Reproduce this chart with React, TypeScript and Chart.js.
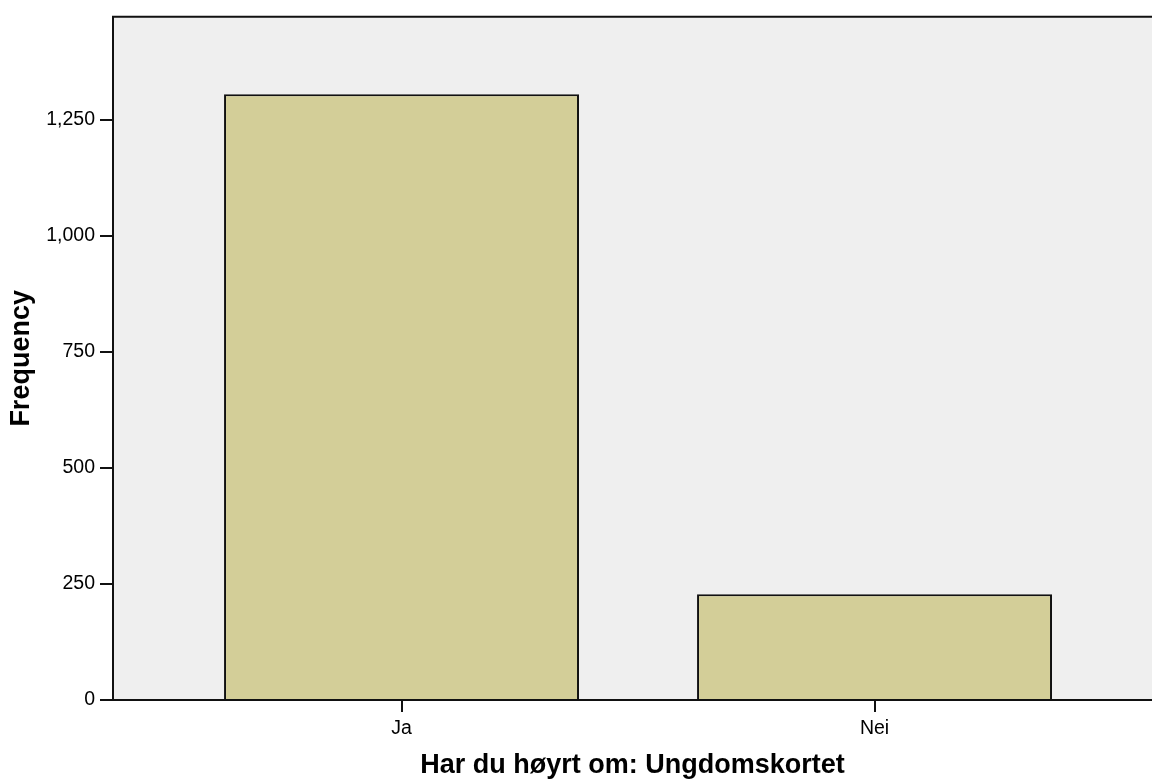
import React, { useEffect, useRef } from "react";
import { Chart, registerables } from "chart.js";

Chart.register(...registerables);

const categories: string[] = ["Ja", "Nei"];
const frequencies: number[] = [1305, 228];
const yTickValues: number[] = [0, 250, 500, 750, 1000, 1250];
const yMax = 1472;
const xTitle = "Har du høyrt om: Ungdomskortet";
const yTitle = "Frequency";

const FONT = "'Liberation Sans', Arial, Helvetica, sans-serif";

const plotFrame = {
  id: "plotFrame",
  beforeDraw(chart: any) {
    const { ctx, chartArea } = chart;
    if (!chartArea) return;
    ctx.save();
    ctx.fillStyle = "#efefef";
    ctx.fillRect(chartArea.left, chartArea.top, chartArea.right - chartArea.left, chartArea.bottom - chartArea.top);
    ctx.restore();
  },
  afterDraw(chart: any) {
    const { ctx, chartArea } = chart;
    if (!chartArea) return;
    ctx.save();
    ctx.strokeStyle = "#111111";
    ctx.lineWidth = 2;
    ctx.beginPath();
    ctx.moveTo(chartArea.left - 1, chartArea.top);
    ctx.lineTo(chartArea.right, chartArea.top);
    ctx.stroke();
    ctx.restore();
  },
};

export default function App() {
  const ref = useRef<HTMLCanvasElement | null>(null);

  useEffect(() => {
    if (!ref.current) return;
    const chart = new Chart(ref.current, {
      type: "bar",
      data: {
        datasets: [
          {
            label: yTitle,
            data: categories.map((c, i) => ({ x: i, y: frequencies[i] })),
            backgroundColor: "#d3ce98",
            borderColor: "#111111",
            borderWidth: 2,
            barPercentage: 0.7505,
            categoryPercentage: 1,
          },
        ],
      },
      options: {
        animation: false,
        responsive: true,
        maintainAspectRatio: false,
        layout: { padding: { top: 15, left: 0, right: 0, bottom: 0 } },
        plugins: {
          legend: { display: false },
          tooltip: { enabled: false },
        },
        scales: {
          x: {
            type: "linear",
            offset: false,
            min: -0.61,
            max: 1.5866,
            afterBuildTicks: (scale: any) => {
              scale.ticks = categories.map((_, i) => ({ value: i }));
            },
            afterFit: (scale: any) => {
              scale.height = 82;
            },
            ticks: {
              color: "#000000",
              font: { family: FONT, size: 19.5 },
              padding: 5,
              maxRotation: 0,
              autoSkip: false,
              callback: (v: any) => categories[Number(v)] ?? "",
            },
            grid: {
              offset: false,
              drawOnChartArea: false,
              drawTicks: true,
              tickLength: 12,
              color: "#111111",
              lineWidth: 2,
            },
            border: { display: true, color: "#111111", width: 2 },
            title: {
              display: true,
              text: xTitle,
              color: "#000000",
              font: { family: FONT, size: 27, weight: "bold" },
              padding: { top: 0, bottom: 0 },
            },
          },
          y: {
            type: "linear",
            min: 0,
            max: yMax,
            afterBuildTicks: (scale: any) => {
              scale.ticks = yTickValues.map((v) => ({ value: v }));
            },
            afterFit: (scale: any) => {
              scale.width = 113;
            },
            ticks: {
              color: "#000000",
              font: { family: FONT, size: 19.5 },
              padding: 5,
              autoSkip: false,
              callback: (v: any) => Number(v).toLocaleString("en-US"),
            },
            grid: {
              drawOnChartArea: false,
              drawTicks: true,
              tickLength: 13,
              color: "#111111",
              lineWidth: 2,
            },
            border: { display: true, color: "#111111", width: 2 },
            title: {
              display: true,
              text: yTitle,
              color: "#000000",
              font: { family: FONT, size: 27, weight: "bold" },
              padding: { top: 5, bottom: 0 },
            },
          },
        },
      },
      plugins: [plotFrame],
    });
    return () => chart.destroy();
  }, []);

  return (
    <div style={{ position: "fixed", left: 0, top: 0, width: 1152, height: 782, background: "#ffffff" }}>
      <canvas ref={ref} />
    </div>
  );
}
